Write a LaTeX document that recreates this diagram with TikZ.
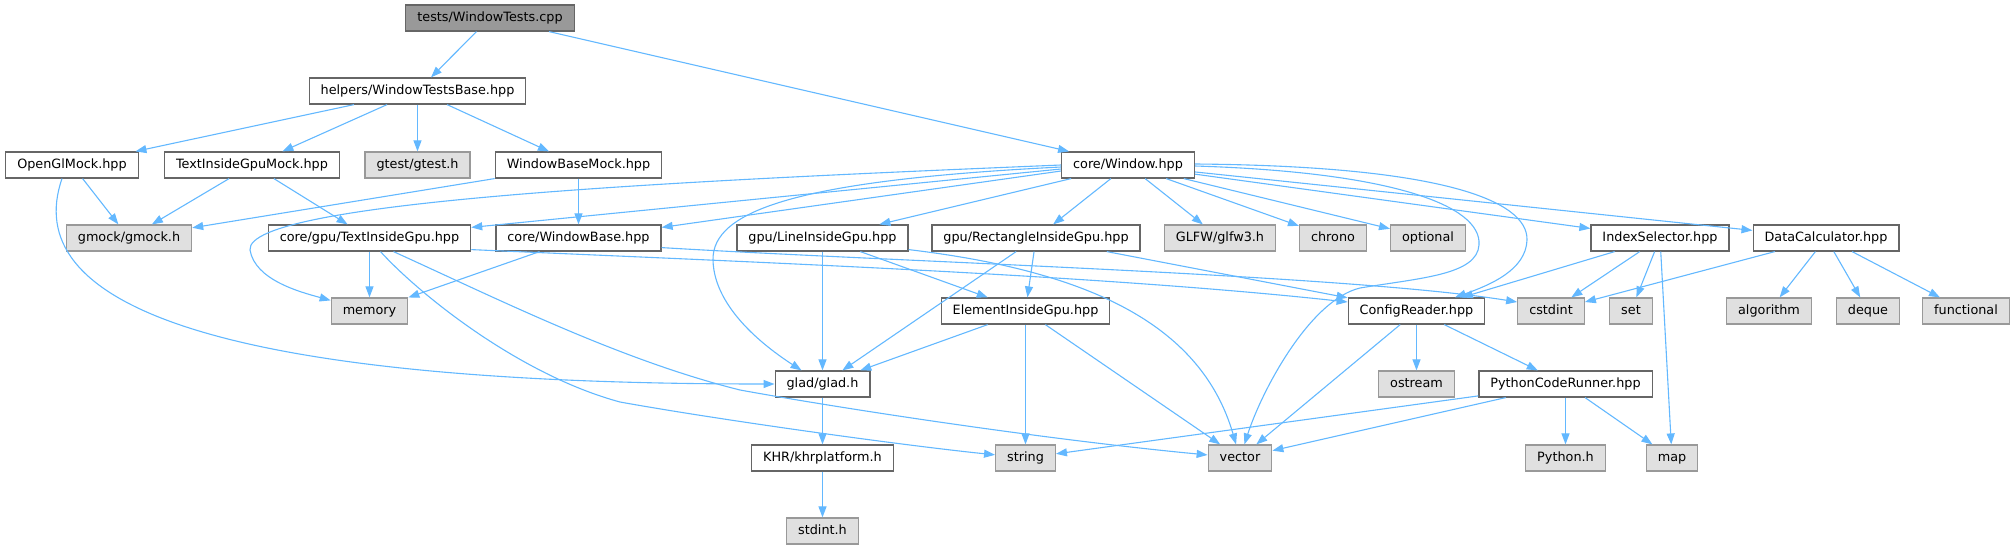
\documentclass[tikz,border=0pt]{standalone}
\usepackage{fontspec}
\setmainfont{DejaVu Sans}
\usetikzlibrary{arrows.meta}
\definecolor{edgeblue}{HTML}{63B8FF}
\definecolor{boxline}{HTML}{666666}
\definecolor{extline}{HTML}{999999}
\definecolor{extfill}{HTML}{E0E0E0}
\definecolor{rootfill}{HTML}{999999}
\tikzset{
  font=\fontsize{12.8}{15}\selectfont,
  incl/.style={draw=boxline, fill=white, line width=1.2pt, minimum height=26pt,
    inner xsep=11.5pt, inner ysep=0pt, text height=9.4pt, text depth=2.6pt},
  stdhdr/.style={incl, draw=extline, fill=extfill},
  mainfile/.style={incl, fill=rootfill},
  dep/.style={draw=edgeblue, line width=1.1pt, -{Triangle[length=11pt,width=8pt]}},
}

\begin{document}
\begin{tikzpicture}[x=1pt,y=-1pt]
\useasboundingbox (0,0) rectangle (2015,549);
% rank 0 / 1
\node[mainfile] (tests) at (490,18) {tests/WindowTests.cpp};
\node[incl] (wtbase) at (417.5,91) {helpers/WindowTestsBase.hpp};
% rank 2
\node[incl] (oglmock) at (72,165) {OpenGlMock.hpp};
\node[incl] (tigmock) at (252,165) {TextInsideGpuMock.hpp};
\node[stdhdr] (gtest) at (417.5,165) {gtest/gtest.h};
\node[incl] (wbmock) at (578.5,165) {WindowBaseMock.hpp};
\node[incl] (window) at (1128,165) {core/Window.hpp};
% rank 3
\node[stdhdr] (gmock) at (129,238) {gmock/gmock.h};
\node[incl] (tig) at (369.5,238) {core/gpu/TextInsideGpu.hpp};
\node[incl] (wbase) at (578.5,238) {core/WindowBase.hpp};
\node[incl] (ligpu) at (822.5,238) {gpu/LineInsideGpu.hpp};
\node[incl] (rigpu) at (1036,238) {gpu/RectangleInsideGpu.hpp};
\node[stdhdr] (glfw) at (1220,238) {GLFW/glfw3.h};
\node[stdhdr] (chrono) at (1333,238) {chrono};
\node[stdhdr] (optional) at (1428,238) {optional};
\node[incl] (idxsel) at (1660,238) {IndexSelector.hpp};
\node[incl] (datacalc) at (1826,238) {DataCalculator.hpp};
% rank 4
\node[stdhdr] (memory) at (369.5,311) {memory};
\node[incl] (eigpu) at (1025.5,311) {ElementInsideGpu.hpp};
\node[incl] (cfg) at (1416.5,311) {ConfigReader.hpp};
\node[stdhdr] (cstdint) at (1551,311) {cstdint};
\node[stdhdr] (stdset) at (1631,311) {set};
\node[stdhdr] (algo) at (1769,311) {algorithm};
\node[stdhdr] (deque) at (1868,311) {deque};
\node[stdhdr] (functional) at (1966,311) {functional};
% rank 5
\node[incl] (glad) at (822.5,384) {glad/glad.h};
\node[stdhdr] (ostream) at (1416.5,384) {ostream};
\node[incl] (pyrun) at (1565.5,384) {PythonCodeRunner.hpp};
% rank 6 / 7
\node[incl] (khr) at (822.5,458) {KHR/khrplatform.h};
\node[stdhdr] (stdstr) at (1025.5,458) {string};
\node[stdhdr] (stdvec) at (1240,458) {vector};
\node[stdhdr] (pyh) at (1565.5,458) {Python.h};
\node[stdhdr] (stdmap) at (1672,458) {map};
\node[stdhdr] (stdint) at (822.5,531) {stdint.h};

% straight includes
\foreach \a/\b in {tests/wtbase, tests/window,
    wtbase/oglmock, wtbase/tigmock, wtbase/gtest, wtbase/wbmock,
    oglmock/gmock, tigmock/gmock, tigmock/tig, wbmock/gmock, wbmock/wbase,
    window/ligpu, window/rigpu, window/glfw, window/chrono, window/optional,
    window/idxsel, window/datacalc,
    tig/memory, wbase/memory,
    ligpu/glad, ligpu/eigpu, rigpu/glad, rigpu/eigpu, rigpu/cfg,
    eigpu/glad, eigpu/stdstr, eigpu/stdvec,
    idxsel/cfg, idxsel/cstdint, idxsel/stdset, idxsel/stdmap,
    datacalc/cstdint, datacalc/algo, datacalc/deque, datacalc/functional,
    cfg/ostream, cfg/pyrun, cfg/stdvec,
    pyrun/pyh, pyrun/stdmap, pyrun/stdvec, pyrun/stdstr,
    glad/khr, khr/stdint}
  \draw[dep] (\a) -- (\b);

% Window.hpp, long ones to the left
\draw[dep] ([yshift=-4pt]window.west) -- ([yshift=-3pt]tig.north east);
\draw[dep] ([yshift=-6pt]window.west) -- ([yshift=-3pt]wbase.north east);
\draw[dep] (window.west) .. controls (700,180) and (245,200) .. (250,250)
  .. controls (255,280) and (300,292) .. (memory);
\draw[dep] ([yshift=-2pt]window.west) .. controls (800,180) and (712,210) .. (713,260)
  .. controls (714,310) and (770,350) .. (glad);
% Window.hpp, loops on the right
\draw[dep] ([yshift=-1pt]window.east) .. controls (1390,172) and (1482,205) .. (1479,245)
  .. controls (1477,275) and (1420,278) .. (1360,288)
  .. controls (1310,300) and (1262,390) .. (stdvec);
\draw[dep] ([yshift=1pt]window.east) .. controls (1440,166) and (1528,200) .. (1527,240)
  .. controls (1526,270) and (1490,285) .. (cfg);

% OpenGlMock to glad
\draw[dep] ([xshift=-10pt]oglmock.south) .. controls (20,300) and (200,384) .. (glad.west);

% TextInsideGpu / WindowBase, long ones
\draw[dep] ([xshift=11pt]tig.south) .. controls (420,295) and (520,375) .. (620,402)
  .. controls (720,420) and (900,445) .. (stdstr);
\draw[dep] ([xshift=24pt]tig.south) .. controls (500,300) and (620,360) .. (740,390)
  .. controls (850,410) and (1050,440) .. (stdvec);
\draw[dep] ([yshift=2pt]tig.south east) .. controls (750,262) and (1100,275) .. ([yshift=9pt]cfg.west);
\draw[dep] ([yshift=4pt]wbase.south east) .. controls (900,262) and (1350,275) .. ([yshift=9pt]cstdint.west);

% LineInsideGpu to vector
\draw[dep] ([yshift=2pt]ligpu.south east) .. controls (1080,270) and (1200,320) .. (stdvec);
\end{tikzpicture}
\end{document}
